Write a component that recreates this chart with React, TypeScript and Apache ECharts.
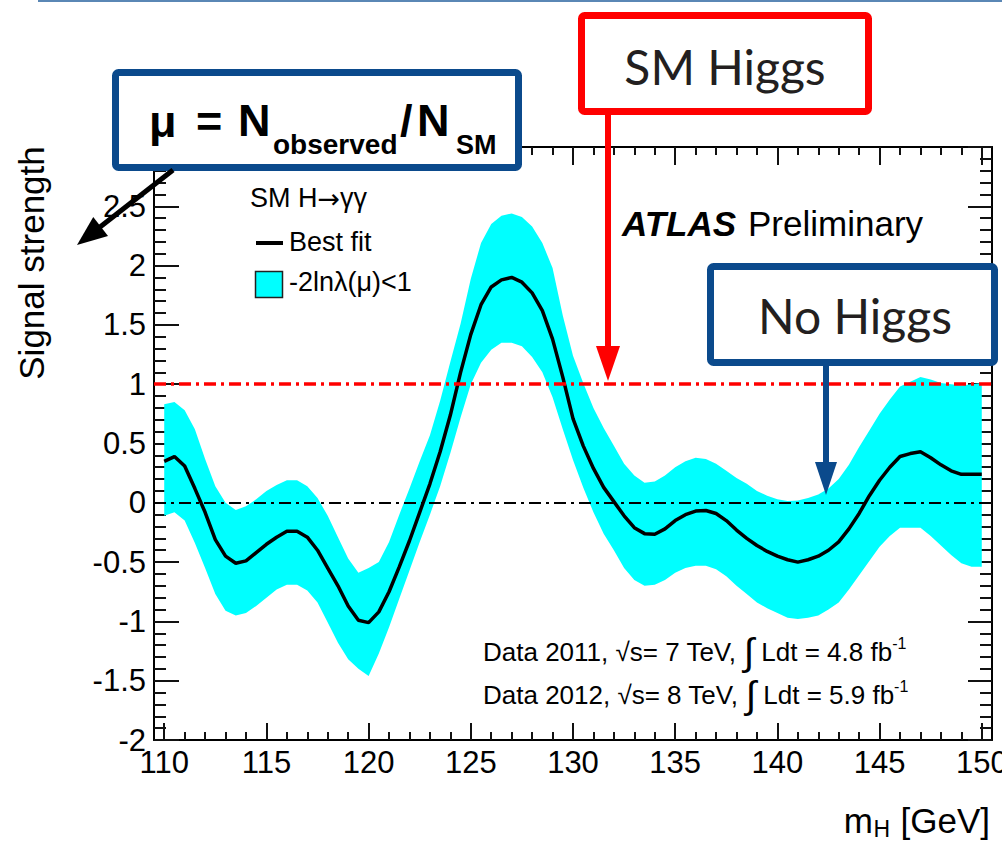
import React, { useEffect, useRef } from "react";
import * as echarts from "echarts";

// Higgs mass hypothesis grid (GeV)
const massGeV = [
  110, 110.5, 111, 111.5, 112, 112.5, 113, 113.5, 114, 114.5,
  115, 115.5, 116, 116.5, 117, 117.5, 118, 118.5, 119, 119.5,
  120, 120.5, 121, 121.5, 122, 122.5, 123, 123.5, 124, 124.5,
  125, 125.5, 126, 126.5, 127, 127.5, 128, 128.5, 129, 129.5,
  130, 130.5, 131, 131.5, 132, 132.5, 133, 133.5, 134, 134.5,
  135, 135.5, 136, 136.5, 137, 137.5, 138, 138.5, 139, 139.5,
  140, 140.5, 141, 141.5, 142, 142.5, 143, 143.5, 144, 144.5,
  145, 145.5, 146, 146.5, 147, 147.5, 148, 148.5, 149, 149.5,
  150,
];

// Best-fit signal strength mu
const bestFit = [
  0.35, 0.39, 0.31, 0.12, -0.08, -0.31, -0.45, -0.51, -0.49, -0.42,
  -0.35, -0.29, -0.24, -0.24, -0.29, -0.40, -0.55, -0.70, -0.87, -0.99,
  -1.01, -0.92, -0.75, -0.54, -0.32, -0.08, 0.16, 0.43, 0.74, 1.10,
  1.42, 1.67, 1.82, 1.88, 1.90, 1.86, 1.77, 1.62, 1.38, 1.06,
  0.71, 0.48, 0.29, 0.13, 0.01, -0.11, -0.21, -0.26, -0.265, -0.22,
  -0.15, -0.10, -0.07, -0.065, -0.09, -0.15, -0.23, -0.30, -0.36, -0.41,
  -0.45, -0.48, -0.50, -0.48, -0.45, -0.40, -0.33, -0.22, -0.09, 0.06,
  0.19, 0.30, 0.39, 0.415, 0.43, 0.38, 0.32, 0.27, 0.24, 0.24,
  0.24,
];

// -2 ln lambda(mu) < 1 interval, lower edge
const bandLow = [
  -0.11, -0.08, -0.15, -0.34, -0.55, -0.77, -0.91, -0.95, -0.93, -0.87,
  -0.80, -0.73, -0.69, -0.69, -0.74, -0.84, -1.01, -1.18, -1.32, -1.40,
  -1.46, -1.27, -1.05, -0.81, -0.57, -0.33, -0.10, 0.14, 0.42, 0.72,
  1.00, 1.18, 1.29, 1.35, 1.35, 1.32, 1.23, 1.10, 0.89, 0.62,
  0.36, 0.13, -0.08, -0.26, -0.40, -0.55, -0.65, -0.70, -0.69, -0.65,
  -0.59, -0.55, -0.53, -0.53, -0.56, -0.62, -0.70, -0.77, -0.84, -0.89,
  -0.93, -0.97, -0.98, -0.97, -0.95, -0.90, -0.84, -0.73, -0.61, -0.49,
  -0.37, -0.28, -0.21, -0.21, -0.21, -0.28, -0.36, -0.44, -0.51, -0.54,
  -0.54,
];

// -2 ln lambda(mu) < 1 interval, upper edge
const bandHigh = [
  0.83, 0.85, 0.78, 0.62, 0.37, 0.14, 0.00, -0.06, -0.03, 0.03,
  0.10, 0.15, 0.19, 0.19, 0.14, 0.04, -0.11, -0.29, -0.47, -0.59,
  -0.55, -0.50, -0.33, -0.10, 0.12, 0.35, 0.57, 0.86, 1.19, 1.51,
  1.89, 2.19, 2.35, 2.42, 2.44, 2.41, 2.33, 2.19, 1.98, 1.58,
  1.24, 1.01, 0.80, 0.63, 0.48, 0.33, 0.23, 0.17, 0.18, 0.23,
  0.30, 0.35, 0.38, 0.37, 0.33, 0.27, 0.21, 0.16, 0.10, 0.06,
  0.03, 0.015, 0.02, 0.04, 0.07, 0.12, 0.20, 0.32, 0.47, 0.61,
  0.75, 0.87, 0.98, 1.02, 1.06, 1.04, 1.01, 1.00, 0.99, 1.00,
  1.01,
];

// Axis ticks
const xMajorTicks = [110, 115, 120, 125, 130, 135, 140, 145, 150];
const xMinorTicks = [
  110, 111, 112, 113, 114, 115, 116, 117, 118, 119, 120, 121, 122, 123,
  124, 125, 126, 127, 128, 129, 130, 131, 132, 133, 134, 135, 136, 137,
  138, 139, 140, 141, 142, 143, 144, 145, 146, 147, 148, 149, 150,
];
const xRange = [109.5, 150.5];
const yRange = [-2, 3];
const yStep = 0.5;

// Reference hypotheses
const smLevel = 1;
const noHiggsLevel = 0;

const FONT = "'Liberation Sans', Arial, Helvetica, sans-serif";
const SYMBOL_FONT = "'DejaVu Sans', 'Liberation Sans', sans-serif";
const SLIDE_FONT = "Lato, 'Open Sans', sans-serif";
const BOX_BLUE = "#0b4a8c";
const RED = "#ff0000";
const CYAN = "#00ffff";

const axisLine = { show: true, onZero: false, lineStyle: { color: "#000", width: 2 } };
const tickLine = { color: "#111", width: 2 };

function arrow(
  x1: number, y1: number, x2: number, y2: number,
  color: string, width: number, headLen: number, headHalf: number
) {
  const dx = x2 - x1;
  const dy = y2 - y1;
  const len = Math.hypot(dx, dy);
  const ux = dx / len;
  const uy = dy / len;
  const bx = x2 - ux * headLen;
  const by = y2 - uy * headLen;
  const nx = -uy;
  const ny = ux;
  return [
    {
      type: "line", z: 100,
      shape: { x1, y1, x2: bx + ux * 2, y2: by + uy * 2 },
      style: { stroke: color, lineWidth: width },
    },
    {
      type: "polygon", z: 100,
      shape: {
        points: [
          [x2, y2],
          [bx + nx * headHalf, by + ny * headHalf],
          [bx - nx * headHalf, by - ny * headHalf],
        ],
      },
      style: { fill: color },
    },
  ];
}

function txt(
  text: string, x: number, y: number, size: number,
  extra: Record<string, any> = {}, family = FONT
) {
  return {
    type: "text", z: 101, x, y,
    style: {
      text, fontSize: size, fontFamily: family, fill: "#000",
      align: "left", verticalAlign: "middle", ...extra,
    },
  };
}

function buildOption() {
  const xAxisBase = { type: "value", min: xRange[0], max: xRange[1], splitLine: { show: false } };
  const yAxisBase = {
    type: "value", min: yRange[0], max: yRange[1], interval: yStep,
    splitLine: { show: false }, minorSplitLine: { show: false },
  };

  const dataLine = (year: string, energy: string, lumi: string) =>
    `{t|Data ${year}, }{r|\u221A}{t|s= ${energy} TeV, }{i|\u222B}{t| Ldt = ${lumi} fb}{s|-1}`;
  const dataRich = {
    t: { fontSize: 26, fontFamily: FONT, fill: "#000", lineHeight: 34 },
    r: { fontSize: 26, fontFamily: FONT, fill: "#000", lineHeight: 34 },
    i: { fontSize: 38, fontFamily: FONT, fill: "#000", lineHeight: 34 },
    s: { fontSize: 16, fontFamily: FONT, fill: "#000", lineHeight: 22, verticalAlign: "top" },
  };

  const graphic: any[] = [
    // slide header rule
    { type: "line", z: 100, shape: { x1: 38, y1: 1, x2: 1002, y2: 1 }, style: { stroke: "#5a87b5", lineWidth: 2 } },

    // legend
    {
      type: "text", z: 101, x: 250, y: 198,
      style: {
        text: "{a|SM H}{b|\u2192}{a|\u03B3\u03B3}",
        verticalAlign: "middle", align: "left",
        rich: {
          a: { fontSize: 27, fontFamily: FONT, fill: "#000" },
          b: { fontSize: 27, fontFamily: SYMBOL_FONT, fill: "#000" },
        },
      },
    },
    { type: "line", z: 101, shape: { x1: 256, y1: 243, x2: 283, y2: 243 }, style: { stroke: "#000", lineWidth: 4 } },
    txt("Best fit", 289, 242, 27),
    { type: "rect", z: 101, shape: { x: 255.5, y: 271.5, width: 27, height: 26 }, style: { fill: CYAN, stroke: "#222", lineWidth: 1.5 } },
    txt("-2ln\u03BB(\u03BC)<1", 289, 282, 27),

    // experiment label
    txt("ATLAS", 622, 223, 35, { fontWeight: "bold", fontStyle: "italic" }),
    txt("Preliminary", 748, 223, 35),

    // dataset labels
    { type: "text", z: 101, x: 483, y: 652, style: { text: dataLine("2011", "7", "4.8"), rich: dataRich, verticalAlign: "middle", align: "left" } },
    { type: "text", z: 101, x: 483, y: 695, style: { text: dataLine("2012", "8", "5.9"), rich: dataRich, verticalAlign: "middle", align: "left" } },

    // axis titles
    {
      type: "text", z: 101, x: 31, y: 263, rotation: Math.PI / 2,
      style: { text: "Signal strength", fontSize: 35, fontFamily: FONT, fill: "#000", align: "center", verticalAlign: "middle" },
    },
    txt("[GeV]", 990, 820, 35, { align: "right" }),
    txt("H", 890, 829, 23, { align: "right" }),
    txt("m", 873, 820, 35, { align: "right" }),

    // definition box
    { type: "rect", z: 100, shape: { x: 115.5, y: 72.5, width: 403, height: 95, r: 3 }, style: { fill: "#fff", stroke: BOX_BLUE, lineWidth: 7 } },
    txt("\u03BC", 149, 121, 45, { fontWeight: "bold" }),
    txt("=", 196, 121, 45, { fontWeight: "bold" }),
    txt("N", 238, 120, 45, { fontWeight: "bold" }),
    txt("observed", 273, 144, 28, { fontWeight: "bold" }),
    txt("/", 400, 120, 45, { fontWeight: "bold" }),
    txt("N", 417, 120, 45, { fontWeight: "bold" }),
    txt("SM", 456, 145, 27, { fontWeight: "bold" }),
    ...arrow(173, 170, 77, 245, "#000", 5, 30, 12),

    // SM Higgs callout
    { type: "rect", z: 100, shape: { x: 581.5, y: 15.5, width: 287, height: 96, r: 3 }, style: { fill: "#fff", stroke: RED, lineWidth: 7 } },
    txt("SM Higgs", 725, 66, 48, { align: "center", fill: "#231f20" }, SLIDE_FONT),
    ...arrow(608, 115, 608, 381, RED, 6, 35, 12),

    // No Higgs callout
    { type: "rect", z: 100, shape: { x: 710.5, y: 266.5, width: 284, height: 96, r: 3 }, style: { fill: "#fff", stroke: BOX_BLUE, lineWidth: 7 } },
    txt("No Higgs", 855, 315, 48, { align: "center", fill: "#231f20" }, SLIDE_FONT),
    ...arrow(826, 366, 826, 495, BOX_BLUE, 6, 33, 11),
  ];

  return {
    animation: false,
    backgroundColor: "#fff",
    grid: { left: 154, right: 10, top: 147, bottom: 102, show: false, containLabel: false, outerBoundsMode: "none" },
    xAxis: [
      {
        ...xAxisBase, position: "bottom", axisLine,
        axisTick: { show: true, inside: true, length: 17, customValues: xMajorTicks, lineStyle: tickLine },
        axisLabel: { show: true, customValues: xMajorTicks, fontSize: 31, fontFamily: FONT, color: "#000", margin: 7 },
      },
      {
        ...xAxisBase, position: "bottom", axisLine: { show: false, onZero: false },
        axisTick: { show: true, inside: true, length: 8, customValues: xMinorTicks, lineStyle: tickLine },
        axisLabel: { show: false },
      },
      {
        ...xAxisBase, position: "top", axisLine,
        axisTick: { show: true, inside: true, length: 18, customValues: xMajorTicks, lineStyle: tickLine },
        axisLabel: { show: false },
      },
      {
        ...xAxisBase, position: "top", axisLine: { show: false, onZero: false },
        axisTick: { show: true, inside: true, length: 8, customValues: xMinorTicks, lineStyle: tickLine },
        axisLabel: { show: false },
      },
    ],
    yAxis: [
      {
        ...yAxisBase, position: "left", axisLine,
        axisTick: { show: true, inside: true, length: 25, lineStyle: tickLine },
        minorTick: { show: true, splitNumber: 5, length: 12, lineStyle: tickLine },
        axisLabel: {
          show: true, fontSize: 31, fontFamily: FONT, color: "#000", margin: 8,
          formatter: (v: number) => (v >= yRange[1] ? "" : String(v)),
        },
      },
      {
        ...yAxisBase, position: "right", axisLine,
        axisTick: { show: true, inside: true, length: 24, lineStyle: tickLine },
        minorTick: { show: true, splitNumber: 5, length: 12, lineStyle: tickLine },
        axisLabel: { show: false },
      },
    ],
    series: [
      {
        type: "custom",
        name: "-2ln\u03BB(\u03BC)<1",
        silent: true,
        z: 1,
        data: massGeV.map((m, i) => [m, bandLow[i], bandHigh[i]]),
        encode: { x: 0, y: [1, 2] },
        renderItem: (params: any, api: any) => {
          if (params.dataIndex !== 0) return null;
          const upper = massGeV.map((m, i) => api.coord([m, bandHigh[i]]));
          const lower = massGeV.map((m, i) => api.coord([m, bandLow[i]])).reverse();
          return {
            type: "polygon",
            shape: { points: upper.concat(lower) },
            style: { fill: CYAN, stroke: "none" },
          };
        },
      },
      {
        type: "line",
        name: "Best fit",
        silent: true,
        z: 3,
        symbol: "none",
        data: massGeV.map((m, i) => [m, bestFit[i]]),
        lineStyle: { color: "#000", width: 3.5 },
        markLine: {
          silent: true,
          symbol: ["none", "none"],
          label: { show: false },
          data: [
            { yAxis: smLevel, lineStyle: { color: RED, width: 3.5, type: [12, 5, 3, 5] } },
            { yAxis: noHiggsLevel, lineStyle: { color: "#000", width: 2, type: [12, 5, 3, 5] } },
          ],
        },
      },
    ],
    graphic,
  };
}

export default function App() {
  const ref = useRef<HTMLDivElement>(null);
  useEffect(() => {
    if (!ref.current) return;
    const chart = echarts.init(ref.current, null, { renderer: "svg" });
    chart.setOption(buildOption() as any);
    return () => chart.dispose();
  }, []);
  return (
    <div
      ref={ref}
      style={{ position: "absolute", left: 0, top: 0, width: 1002, height: 842, background: "#fff" }}
    />
  );
}
